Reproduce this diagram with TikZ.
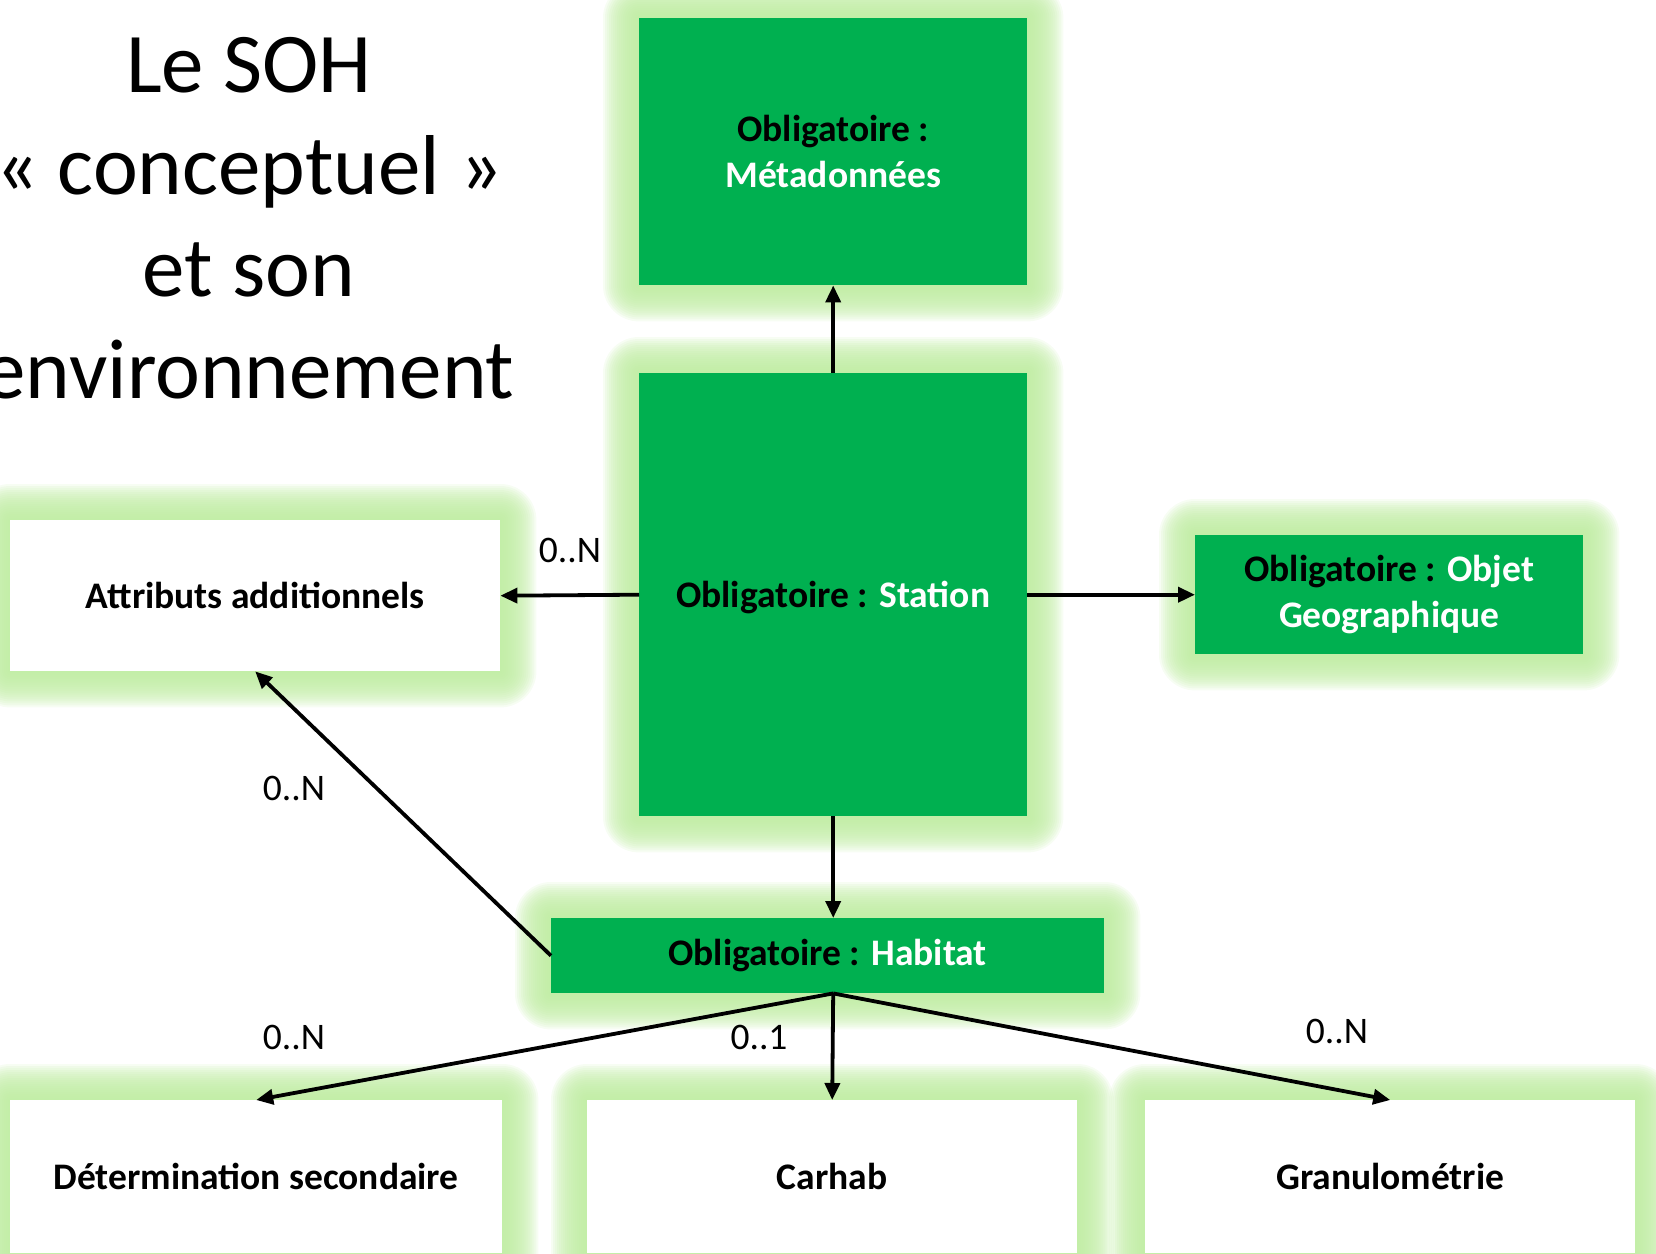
\documentclass[tikz,border=0pt]{standalone}
\usepackage{fontspec}
\setmainfont{Carlito}
\usetikzlibrary{arrows.meta}
\definecolor{boxgreen}{RGB}{0,176,80}
\definecolor{glowc}{RGB}{190,236,160}
\pgfdeclarelayer{background}
\pgfsetlayers{background,main}
\tikzset{
  basebox/.style={draw=none, anchor=north west, align=center, inner sep=0pt,
    font=\fontsize{37.5}{46}\selectfont\bfseries},
  gbox/.style={basebox, fill=boxgreen, text=black},
  wbox/.style={basebox, fill=white, text=black},
  conn/.style={line width=3.8pt, -{Triangle[length=17pt,width=15pt]}},
  mult/.style={font=\fontsize{37.5}{44}\selectfont, inner sep=0pt},
  titletext/.style={font=\fontsize{85}{102}\selectfont, anchor=base, inner sep=0pt}
}
\newcommand{\glowof}[1]{%
  \begin{pgfonlayer}{background}
    \foreach \r in {36,34,...,2}{
      \fill[glowc, opacity=0.13, rounded corners=\r pt]
        ([xshift=-\r pt,yshift=\r pt]#1.north west) rectangle
        ([xshift=\r pt,yshift=-\r pt]#1.south east);
    }
  \end{pgfonlayer}}
\begin{document}
\begin{tikzpicture}[x=1pt,y=-1pt]
\useasboundingbox (0,0) rectangle (1656,1253);

% title
\node[titletext] (t1) at (249,92) {Le SOH};
\node[titletext] (t2) at (249,194) {« conceptuel »};
\node[titletext] (t3) at (249,296) {et son};
\node[titletext] (t4) at (249,398) {environnement};

% boxes
\node[gbox, minimum width=388pt, minimum height=267pt] (meta) at (639,18)
  {Obligatoire :\\\textcolor{white}{Métadonnées}};
\node[gbox, minimum width=388pt, minimum height=443pt, text depth=0pt] (station) at (639,373)
  {Obligatoire : \textcolor{white}{Station}};
\node[wbox, minimum width=490pt, minimum height=151pt] (attr) at (10,520)
  {Attributs additionnels};
\node[gbox, minimum width=388pt, minimum height=119pt] (objgeo) at (1195,535)
  {Obligatoire : \textcolor{white}{Objet}\\\textcolor{white}{Geographique}};
\node[gbox, minimum width=553pt, minimum height=75pt] (habitat) at (551,918)
  {Obligatoire : \textcolor{white}{Habitat}};
\node[wbox, minimum width=492pt, minimum height=153pt] (det) at (10,1100)
  {Détermination secondaire};
\node[wbox, minimum width=490pt, minimum height=153pt] (carhab) at (587,1100)
  {Carhab};
\node[wbox, minimum width=490pt, minimum height=153pt] (granulo) at (1145,1100)
  {Granulométrie};

\glowof{meta}
\glowof{station}
\glowof{attr}
\glowof{objgeo}
\glowof{habitat}
\glowof{det}
\glowof{carhab}
\glowof{granulo}

% attachment points on Habitat, in line with Station's axis
\coordinate (htop) at (station.south |- habitat.north);
\coordinate (hbot) at (station.south |- habitat.south);

% connectors
\draw[conn] (station.north) -- (meta.south);
\draw[conn] (station.west) -- (attr.east);
\draw[conn] (station.east) -- (objgeo.west);
\draw[conn] (station.south) -- (htop);
\draw[conn] (habitat.west) -- (attr.south);
\draw[conn] (hbot) -- (det.north);
\draw[conn] (hbot) -- (carhab.north);
\draw[conn] (hbot) -- (granulo.north);

% multiplicities
\node[mult] (m1) at (570,550) {0..N};
\node[mult] (m2) at (294,788) {0..N};
\node[mult] (m3) at (294,1037) {0..N};
\node[mult] (m4) at (759,1037) {0..1};
\node[mult] (m5) at (1337,1031) {0..N};
\end{tikzpicture}
\end{document}
